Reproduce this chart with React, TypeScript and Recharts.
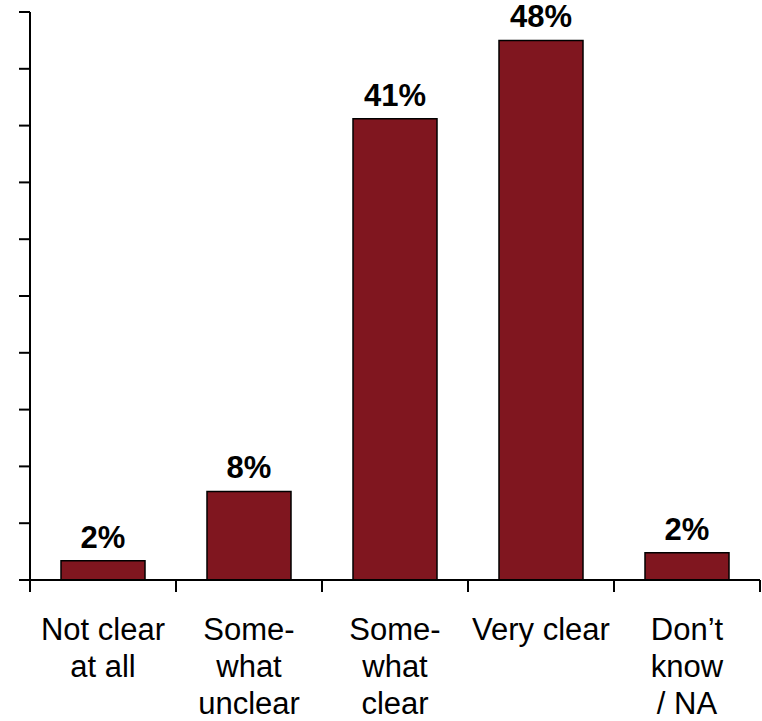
import React from 'react';
import { BarChart, Bar, XAxis, YAxis, LabelList } from 'recharts';

const categories = [
  'Not clear\nat all',
  'Some-\nwhat\nunclear',
  'Some-\nwhat\nclear',
  'Very clear',
  'Don’t\nknow\n/ NA',
];
const values = [1.7, 7.8, 40.6, 47.5, 2.4];
const yTicks = [0, 5, 10, 15, 20, 25, 30, 35, 40, 45, 50];

const W = 762;
const H = 721;
const MARGIN = { top: 12, right: 2, bottom: 0, left: 0 };
const Y_AXIS_W = 30;
const X_AXIS_H = 141;
const BAND = (W - MARGIN.left - MARGIN.right - Y_AXIS_W) / categories.length;
const FONT = '"Liberation Sans", Arial, Helvetica, sans-serif';
const BAR_FILL = '#80161f';

const data = categories.map((name, i) => ({ name, value: values[i] }));

function CategoryTick(props: any) {
  const { x, y, payload, index } = props;
  const lines = String(payload.value).split('\n');
  const left = x - BAND / 2;
  const right = x + BAND / 2;
  return (
    <g>
      <line x1={left} y1={y} x2={left} y2={y + 12} stroke="#000" strokeWidth={2} />
      {index === categories.length - 1 && (
        <line x1={right} y1={y} x2={right} y2={y + 12} stroke="#000" strokeWidth={2} />
      )}
      <text x={x} y={y + 60} textAnchor="middle" fontSize={31} fontFamily={FONT} fill="#000">
        {lines.map((l, i) => (
          <tspan key={i} x={x} dy={i === 0 ? 0 : 36.8}>
            {l}
          </tspan>
        ))}
      </text>
    </g>
  );
}

export default function App() {
  return (
    <div style={{ position: 'absolute', left: 0, top: 0, background: '#fff' }}>
      <BarChart width={W} height={H} data={data} margin={MARGIN}>
        <XAxis
          dataKey="name"
          interval={0}
          height={X_AXIS_H}
          tickLine={false}
          tickSize={0}
          tickMargin={0}
          axisLine={{ stroke: '#000', strokeWidth: 2 }}
          tick={<CategoryTick />}
        />
        <YAxis
          width={Y_AXIS_W}
          domain={[0, 50]}
          ticks={yTicks}
          interval={0}
          tickSize={11}
          tickFormatter={() => ''}
          axisLine={{ stroke: '#000', strokeWidth: 2 }}
          tickLine={{ stroke: '#000', strokeWidth: 2 }}
        />
        <Bar
          dataKey="value"
          fill={BAR_FILL}
          stroke="#000"
          strokeWidth={1.5}
          barSize={84}
          isAnimationActive={false}
        >
          <LabelList
            dataKey="value"
            position="top"
            offset={13}
            formatter={(v: any) => `${Math.round(Number(v))}%`}
            fontSize={31}
            fontWeight="bold"
            fontFamily={FONT}
            fill="#000"
          />
        </Bar>
      </BarChart>
    </div>
  );
}
